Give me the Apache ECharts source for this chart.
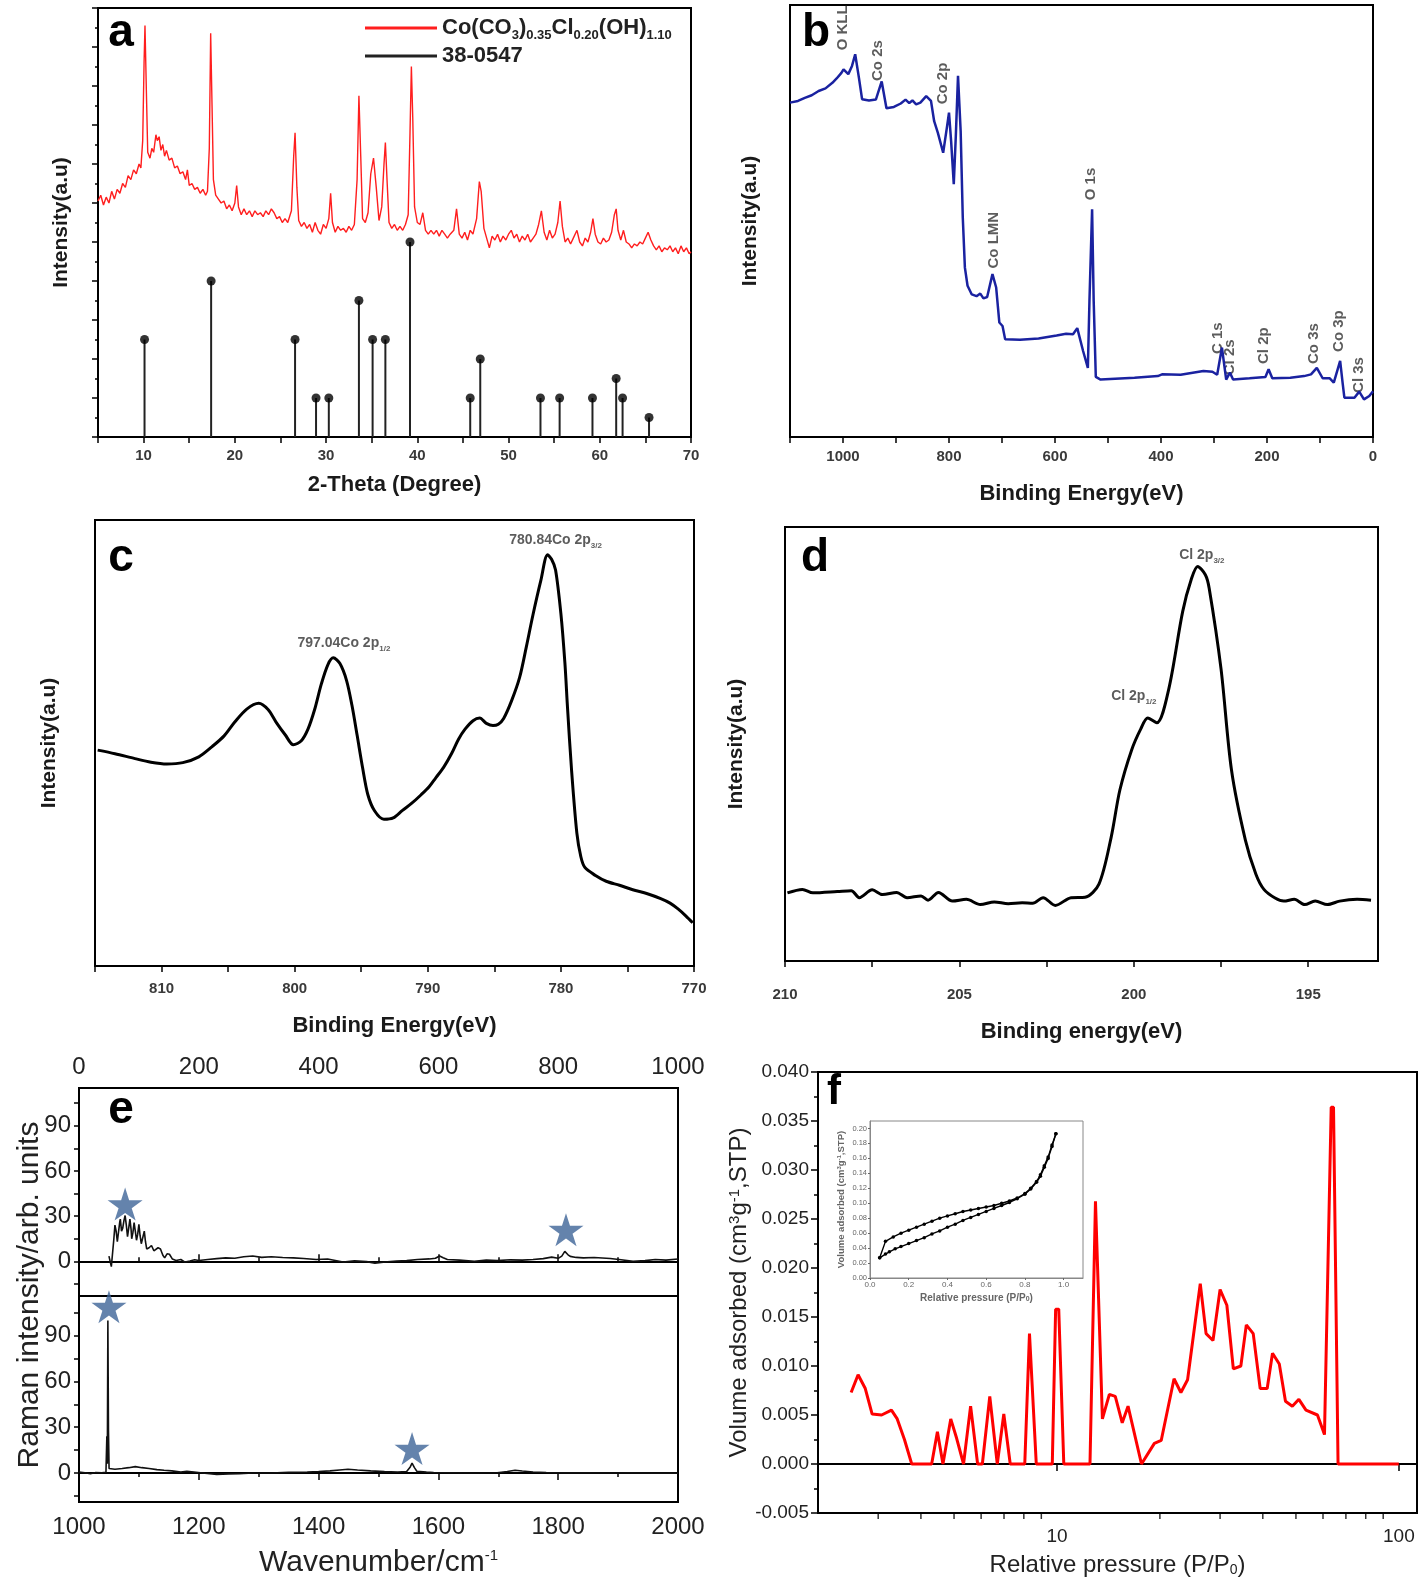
<!DOCTYPE html>
<html><head><meta charset="utf-8">
<script src="https://cdn.jsdelivr.net/npm/echarts/dist/echarts.min.js"></script>
<style>html,body{margin:0;padding:0;background:#fff}#c{width:1418px;height:1587px}</style>
</head><body><div id="c"></div><script>
// ---------- DATA ----------
// (a) XRD pattern [2theta, intensity]
const xrdCurve = [[5.0,6.05],[5.3,6.2],[5.6,5.95],[5.9,6.15],[6.2,6.0],[6.5,6.3],[6.8,6.1],[7.1,6.35],[7.4,6.25],[7.7,6.5],[8.0,6.4],[8.3,6.7],[8.6,6.6],[8.9,6.85],[9.2,6.75],[9.5,7.0],[9.7,6.9],[9.9,7.6],[10.05,9.6],[10.15,10.55],[10.3,8.9],[10.45,7.3],[10.7,7.15],[10.9,7.4],[11.1,7.3],[11.35,7.75],[11.5,7.6],[11.7,7.7],[11.9,7.35],[12.1,7.5],[12.3,7.2],[12.5,7.35],[12.8,7.1],[13.1,7.15],[13.4,6.9],[13.7,6.95],[14.0,6.75],[14.3,6.8],[14.6,6.6],[14.8,6.85],[15.0,6.45],[15.3,6.5],[15.6,6.35],[15.9,6.4],[16.2,6.25],[16.5,6.35],[16.8,6.2],[17.0,6.3],[17.2,7.4],[17.35,10.35],[17.5,8.5],[17.65,6.6],[17.9,6.2],[18.2,6.1],[18.5,6.0],[18.8,6.05],[19.1,5.85],[19.4,5.95],[19.7,5.8],[20.0,6.0],[20.2,6.45],[20.4,5.9],[20.7,5.7],[21.0,5.85],[21.3,5.7],[21.6,5.8],[21.9,5.65],[22.2,5.8],[22.5,5.7],[22.8,5.75],[23.1,5.65],[23.4,5.8],[23.7,5.7],[24.0,5.85],[24.3,5.75],[24.6,5.6],[24.9,5.65],[25.2,5.5],[25.5,5.6],[25.8,5.5],[26.2,5.8],[26.45,7.2],[26.6,7.8],[26.8,6.4],[27.0,5.55],[27.3,5.4],[27.6,5.5],[27.9,5.35],[28.2,5.45],[28.5,5.25],[28.8,5.5],[29.1,5.3],[29.4,5.2],[29.7,5.45],[30.0,5.35],[30.3,5.6],[30.5,6.25],[30.7,5.5],[31.0,5.25],[31.3,5.4],[31.6,5.3],[31.9,5.35],[32.2,5.25],[32.5,5.4],[32.8,5.3],[33.1,5.45],[33.4,6.6],[33.6,8.75],[33.8,7.2],[34.0,5.6],[34.3,5.5],[34.6,5.75],[34.9,6.75],[35.2,7.15],[35.5,6.4],[35.8,5.55],[36.1,5.9],[36.35,7.0],[36.5,7.55],[36.7,6.5],[36.9,5.5],[37.2,5.35],[37.5,5.45],[37.8,5.3],[38.1,5.4],[38.4,5.3],[38.7,5.45],[39.0,5.7],[39.2,7.8],[39.35,9.5],[39.5,8.2],[39.7,5.9],[40.0,5.5],[40.3,5.45],[40.6,5.75],[40.9,5.3],[41.2,5.2],[41.5,5.3],[41.8,5.2],[42.1,5.3],[42.4,5.15],[42.7,5.3],[43.0,5.2],[43.3,5.1],[43.6,5.2],[44.0,5.3],[44.3,5.85],[44.6,5.2],[44.9,5.1],[45.2,5.25],[45.5,5.05],[45.8,5.3],[46.1,5.2],[46.5,5.6],[46.8,6.55],[47.0,6.3],[47.3,5.35],[47.6,5.1],[47.9,4.85],[48.2,5.15],[48.5,5.05],[48.8,5.2],[49.1,5.0],[49.4,5.15],[49.7,5.05],[50.0,5.2],[50.3,5.3],[50.6,5.1],[50.9,5.2],[51.2,5.0],[51.5,5.15],[51.8,5.05],[52.1,5.2],[52.4,5.0],[52.7,5.1],[53.0,5.2],[53.3,5.45],[53.6,5.8],[53.9,5.25],[54.2,5.05],[54.5,5.3],[54.8,5.1],[55.1,5.2],[55.4,5.5],[55.65,6.05],[55.9,5.4],[56.2,5.0],[56.5,5.1],[56.8,4.95],[57.1,5.1],[57.5,5.3],[57.8,5.0],[58.1,4.9],[58.4,5.1],[58.7,5.0],[59.0,5.25],[59.25,5.6],[59.5,5.2],[59.8,5.0],[60.1,4.95],[60.4,5.1],[60.7,5.0],[61.0,5.05],[61.3,5.25],[61.6,5.7],[61.8,5.85],[62.0,5.3],[62.3,5.05],[62.6,5.3],[62.9,5.0],[63.2,4.95],[63.5,4.85],[63.8,4.95],[64.1,4.9],[64.4,5.0],[64.7,4.95],[65.0,5.1],[65.3,5.25],[65.6,5.05],[65.9,4.9],[66.2,4.8],[66.5,4.9],[66.8,4.75],[67.1,4.85],[67.4,4.8],[67.7,4.9],[68.0,4.75],[68.3,4.85],[68.6,4.7],[68.9,4.9],[69.2,4.75],[69.5,4.85],[69.8,4.7],[70.0,4.75]];
const refPos = [10.1,17.4,26.6,28.9,30.3,33.6,35.1,36.5,39.2,45.8,46.9,53.5,55.6,59.2,61.8,62.5,65.4];
const refInt = [2.5,4,2.5,1,1,3.5,2.5,2.5,5,1,2,1,1,1,1.5,1,0.5];
const legendNames = ['Co(CO3)0.35Cl0.20(OH)1.10','38-0547'];

// (b) XPS survey [BE, intensity]
const survey = [[1100,77.4],[1085,77.8],[1072,78.5],[1059,79.1],[1046,80.1],[1033,80.7],[1020,82.0],[1012,83.0],[1003,84.3],[999,85.1],[990,84.0],[983,85.9],[977,88.6],[970,83.2],[964,78.2],[951,77.9],[938,78.1],[927,82.3],[918,76.1],[904,76.4],[891,77.2],[882,78.1],[875,77.3],[869,77.9],[862,77.0],[854,77.4],[843,78.9],[834,77.8],[828,73.1],[821,70.4],[811,65.8],[804,71.6],[800,75.1],[796,68.5],[791,58.5],[787,70.1],[783,83.6],[778,70.8],[774,50.8],[770,39.2],[765,35.0],[757,33.0],[748,32.6],[741,33.2],[735,32.1],[728,32.4],[718,37.7],[711,34.6],[705,26.5],[699,25.7],[694,22.6],[666,22.5],[631,22.8],[597,23.5],[579,23.9],[566,23.8],[558,25.2],[547,19.9],[538,16.0],[535,31.5],[530,52.7],[527,31.5],[523,13.9],[514,13.3],[450,13.7],[406,14.1],[398,14.5],[363,14.4],[320,15.3],[303,15.1],[294,14.4],[285,20.7],[277,13.3],[270,14.9],[264,13.3],[233,13.6],[203,13.9],[197,15.7],[190,13.6],[156,13.7],[130,14.1],[117,14.5],[106,16.0],[95,13.6],[82,13.6],[74,12.6],[62,17.6],[57,12.2],[54,9.1],[35,9.1],[26,10.5],[17,8.7],[7,9.5],[0,10.6]];
const surveyLabels = ['O KLL','Co 2s','Co 2p','Co LMN','O 1s','C 1s','Cl 2s','Cl 2p','Co 3s','Co 3p','Cl 3s'];
const surveyLabelBE = [1000,934,811,715,532,292,270,206,111,64,26];
const surveyLabelY = [89.5,82.4,77,39,54.8,19.2,14.3,16.9,16.9,19.7,10.2];

// (c) Co 2p
const co2p = [[814.8,48.4],[813.5,47.6],[812,46.5],[810.8,45.7],[809.6,45.3],[808.4,45.6],[807.2,46.9],[806.2,49.2],[805.3,51.6],[804.5,54.7],[803.6,57.6],[802.7,58.9],[802.0,57.5],[801.4,54.7],[800.7,51.8],[800.1,49.6],[799.5,50.5],[799,53.1],[798.5,57.5],[798,63.2],[797.5,67.6],[797.1,69.1],[796.6,67.8],[796.1,64],[795.7,58.5],[795.3,51.6],[794.9,44.5],[794.5,38.4],[794.0,34.8],[793.3,32.9],[792.6,33.2],[791.9,34.9],[791.2,36.5],[790.5,38.4],[789.9,40.2],[789.4,42.2],[788.8,44.6],[788.2,47.7],[787.7,50.8],[787.2,53.1],[786.6,55.0],[786.1,55.6],[785.6,54.4],[785.1,53.9],[784.7,54.2],[784.3,55.5],[783.7,59.5],[783.1,64.7],[782.6,71.5],[782.1,78.7],[781.5,86.5],[781.0,92.2],[780.7,91.2],[780.4,88.8],[780.0,79],[779.7,68],[779.5,57.8],[779.2,44],[778.8,29.8],[778.5,24.5],[778.2,22.1],[777.4,20.3],[776.6,19],[775.6,18.1],[774.6,17.1],[773.5,16.2],[772.5,15.1],[771.8,14.1],[771.2,12.8],[770.6,11.2],[770.1,9.7]];
const co2pLabels = ['{t|780.84Co 2p}{s|3/2}','{t|797.04Co 2p}{s|1/2}'];
const co2pLabelPos = [[780.4,95.5],[796.3,72.5]];

// (d) Cl 2p
const cl2p = [[209.93,15.7],[209.5,16.5],[209.2,15.7],[208.5,16.0],[208.1,16.2],[207.87,14.6],[207.5,16.4],[207.2,15.3],[206.8,15.8],[206.5,14.6],[206.1,15.0],[205.9,14.0],[205.6,15.8],[205.2,13.8],[204.8,14.2],[204.4,13.0],[204.0,13.6],[203.6,13.2],[203.2,13.4],[202.9,13.3],[202.6,14.6],[202.25,12.8],[201.8,14.6],[201.4,14.7],[201.0,17.7],[200.65,28.5],[200.4,39.4],[200.06,48.7],[199.8,53.5],[199.6,56],[199.34,54.9],[199.0,62.6],[198.6,80.5],[198.35,88],[198.17,90.9],[197.95,89],[197.84,85.9],[197.5,67.3],[197.2,44],[196.8,27.8],[196.5,20],[196.27,16.5],[195.95,14.5],[195.7,13.8],[195.4,14.2],[195.1,13],[194.8,13.8],[194.45,13],[194.1,13.8],[193.6,14.2],[193.2,14]];
const cl2pLabels = ['{t|Cl 2p}{s|3/2}','{t|Cl 2p}{s|1/2}'];
const cl2pLabelPos = [[198.05,93.5],[200.0,61]];
const dTickLabels = [195,200,205,210];
const dTicks = [195,197.5,200,202.5,205,207.5,210];

// (e) Raman
const ramanTop = [[50,3.5],[54,-3.5],[58,14],[60,24],[62,20],[64,13],[66,11.7],[68,26],[69,28],[71,20],[73,22],[75,27],[77,30.4],[79,24],[81,16.4],[83,22],[85,28],[87,21],[88,15],[90,19],[92,25.7],[94,20],[96,14],[98,18],[100,24.6],[102,17],[104,11.7],[106,15],[109,20],[111,13],[113,8.2],[117,9],[121,10.5],[125,7],[128,5.9],[132,9],[136,8.2],[140,4],[143,2.3],[147,5],[151,4.7],[156,1.5],[162,0.5],[170,1.2],[177,-0.5],[185,0.2],[193,1],[200,0.5],[215,1.2],[230,1.8],[245,2.3],[260,2.0],[275,3.0],[290,3.5],[305,2.6],[321,3],[340,2.5],[358,2.3],[375,1.9],[396,1.2],[415,1.5],[441,-0.5],[460,0.3],[480,-0.2],[494,-1.2],[515,-0.3],[530,0.2],[547,0.5],[565,1.2],[585,1.6],[595,2.0],[602,3.5],[608,2.4],[615,1.2],[635,0.8],[660,0],[680,0.8],[698,0.5],[720,1.0],[740,0.8],[758,1.2],[775,1.8],[789,2.8],[800,2.0],[806,3.5],[811,6.6],[816,4.5],[820,3.3],[830,2.6],[842,2.3],[860,2.5],[887,1.9],[905,1.0],[925,0],[945,0.5],[962,1.2],[980,0.8],[1000,1.6]];
const ramanBottom = [[1000,0.7],[1010,0.2],[1019,-0.5],[1028,0.3],[1038,0.2],[1045,0.5],[1046.5,24],[1047.3,6],[1048.2,100],[1049.2,28],[1050.2,3],[1060,2.5],[1072,3],[1083,3.5],[1094,4.2],[1105,3.5],[1117,3],[1130,2.2],[1142,1.8],[1155,1.4],[1170,0.6],[1180,1.2],[1192,0.7],[1210,-0.2],[1230,-0.9],[1250,-0.6],[1268,-0.5],[1290,0],[1321,0],[1350,0.4],[1381,0.7],[1400,1.0],[1419,1.4],[1435,2.0],[1449,2.5],[1465,2.0],[1487,1.4],[1510,0.9],[1532,0.7],[1547,1.0],[1553,4.0],[1556,6.5],[1560,3.5],[1564,1.2],[1580,0.6],[1592,0.3],[1620,0.2],[1660,0],[1698,0.2],[1715,1.0],[1728,1.8],[1740,1.3],[1758,0.7],[1780,0.3],[1811,0.1],[1850,0.2],[1887,0],[1920,0.1],[1960,-0.1],[2000,-0.1]];
const starsTop = [[77,38],[813,21]];
const starsBottom = [[1050,109],[1556,16]];
const eYLabels = [0,30,60,90];
const eYTicks = [-15,0,15,30,45,60,75,90,105];

// (f) pore distribution [P/P0, volume]
const poreDist = [[2.50,0.0073],[2.62,0.0091],[2.75,0.0077],[2.88,0.0051],[3.07,0.0050],[3.28,0.0055],[3.41,0.0046],[3.58,0.0025],[3.76,0.0],[4.30,0.0],[4.47,0.0033],[4.64,0.0],[4.89,0.0046],[5.09,0.0026],[5.33,0.0],[5.59,0.0059],[5.86,0.0],[6.05,0.0],[6.36,0.0069],[6.69,0.0],[6.99,0.0051],[7.30,0.0],[8.05,0.0],[8.31,0.0133],[8.70,0.0],[9.69,0.0],[9.91,0.0158],[10.12,0.0158],[10.47,0.0],[12.49,0.0],[12.96,0.0268],[13.58,0.0046],[14.23,0.0071],[14.81,0.0069],[15.52,0.0042],[16.14,0.0059],[17.67,0.0],[19.27,0.0021],[20.18,0.0024],[22.0,0.0087],[23.04,0.0073],[24.1,0.0086],[26.25,0.0184],[27.3,0.0133],[28.6,0.0126],[30.0,0.0178],[31.4,0.0162],[32.8,0.0097],[34.5,0.0100],[35.8,0.0142],[37.5,0.0133],[39.3,0.0077],[41.2,0.0077],[42.7,0.0113],[44.7,0.0102],[46.6,0.0064],[48.8,0.0059],[51.0,0.0066],[53.5,0.0055],[57.8,0.0050],[60.6,0.0030],[63.4,0.0364],[64.4,0.0364],[66.4,0.0],[100.0,0.0]];
const logMinorTicks = [3,4,5,6,7,8,9,20,30,40,50,60,70,80,90];
// inset isotherm
const isoAds = [[0.05,0.027],[0.08,0.032],[0.10,0.035],[0.13,0.039],[0.16,0.042],[0.20,0.046],[0.24,0.050],[0.28,0.054],[0.32,0.059],[0.36,0.063],[0.40,0.068],[0.44,0.072],[0.48,0.077],[0.52,0.081],[0.56,0.085],[0.60,0.089],[0.64,0.093],[0.68,0.097],[0.72,0.101],[0.76,0.106],[0.80,0.112],[0.83,0.119],[0.86,0.128],[0.88,0.136],[0.90,0.148],[0.92,0.160],[0.94,0.176],[0.96,0.193]];
const isoDes = [[0.96,0.193],[0.94,0.178],[0.92,0.162],[0.90,0.150],[0.88,0.138],[0.86,0.129],[0.83,0.120],[0.80,0.113],[0.76,0.107],[0.72,0.103],[0.68,0.100],[0.64,0.097],[0.60,0.095],[0.56,0.093],[0.52,0.091],[0.48,0.089],[0.44,0.086],[0.40,0.083],[0.36,0.080],[0.32,0.076],[0.28,0.072],[0.24,0.068],[0.20,0.064],[0.16,0.060],[0.12,0.055],[0.08,0.049],[0.05,0.027]];

// ---------- CHART ----------
const FONT = '"Liberation Sans", Arial, Helvetica, sans-serif';
const chart = echarts.init(document.getElementById('c'), null, {renderer:'canvas'});
const grids = [
  {left:98, top:8, width:593, height:429},
  {left:790, top:5, width:583, height:432},
  {left:95, top:520, width:599, height:446},
  {left:785, top:527, width:593, height:434},
  {left:79, top:1088, width:599, height:208},
  {left:79, top:1296, width:599, height:206},
  {left:818, top:1072, width:599, height:441},
  {left:870, top:1121, width:213, height:157}
].map(g => Object.assign({show:true, borderColor:'#000', borderWidth:2}, g));
grids[7].borderColor = '#888'; grids[7].borderWidth = 1; grids[7].backgroundColor = 'rgba(255,255,255,0)';

const aLine = {show:true, lineStyle:{color:'#000', width:2}};
const bLab = {fontFamily:FONT, fontWeight:'bold', fontSize:15, color:'#3a3a3a'};
const bName = {fontFamily:FONT, fontWeight:'bold', fontSize:22, color:'#1a1a1a'};
const tick = (len, w) => ({show:true, length:len, lineStyle:{color:'#000', width:w||1.5}});
const noSplit = {show:false};
const plain = v => String(v);
const supRich = {
  sup:{fontFamily:FONT, fontSize:15, verticalAlign:'top', lineHeight:14},
  sub:{fontFamily:FONT, fontSize:14, verticalAlign:'bottom', lineHeight:12}
};

const xAxis = [
  {gridIndex:0, type:'value', min:5, max:70, interval:5, axisLine:aLine, axisTick:tick(6),
   axisLabel:Object.assign({margin:11, formatter:v => v % 10 === 0 ? String(v) : ''}, bLab), splitLine:noSplit,
   name:'2-Theta (Degree)', nameLocation:'middle', nameGap:37, nameTextStyle:bName},
  {gridIndex:1, type:'value', min:0, max:1100, inverse:true, interval:100, axisLine:aLine, axisTick:tick(6),
   axisLabel:Object.assign({margin:12, formatter:v => v % 200 === 0 ? String(v) : ''}, bLab), splitLine:noSplit,
   name:'Binding Energy(eV)', nameLocation:'middle', nameGap:46, nameTextStyle:bName},
  {gridIndex:2, type:'value', min:770, max:815, inverse:true, interval:5, axisLine:aLine, axisTick:tick(6),
   axisLabel:Object.assign({margin:15, formatter:v => v % 10 === 0 ? String(v) : ''}, bLab), splitLine:noSplit,
   name:'Binding Energy(eV)', nameLocation:'middle', nameGap:49, nameTextStyle:bName},
  {gridIndex:3, type:'value', min:193, max:210, inverse:true, axisLine:aLine,
   axisTick:Object.assign(tick(6), {customValues:dTicks}),
   axisLabel:Object.assign({margin:26, customValues:dTickLabels}, bLab), splitLine:noSplit,
   name:'Binding energy(eV)', nameLocation:'middle', nameGap:60, nameTextStyle:bName},
  {gridIndex:4, type:'value', position:'top', min:0, max:1000, interval:200, axisLine:aLine, axisTick:tick(7),
   minorTick:{show:true, splitNumber:2, length:4, lineStyle:{color:'#000', width:1.5}},
   axisLabel:{fontFamily:FONT, fontSize:24, color:'#222', margin:9, formatter:plain}, splitLine:noSplit, minorSplitLine:noSplit},
  {gridIndex:5, type:'value', min:1000, max:2000, interval:200, axisLine:aLine, axisTick:tick(7),
   minorTick:{show:true, splitNumber:2, length:4, lineStyle:{color:'#000', width:1.5}},
   axisLabel:{fontFamily:FONT, fontSize:24, color:'#222', margin:13, formatter:plain}, splitLine:noSplit, minorSplitLine:noSplit,
   name:'Wavenumber/cm{sup|-1}', nameLocation:'middle', nameGap:46,
   nameTextStyle:{fontFamily:FONT, fontSize:30, color:'#222', rich:supRich}},
  {gridIndex:6, type:'log', logBase:10, min:2, max:113, axisLine:aLine, axisTick:tick(7),
   axisLabel:{fontFamily:FONT, fontSize:19, color:'#222', margin:14, showMinLabel:false, showMaxLabel:false, formatter:plain},
   splitLine:noSplit, minorSplitLine:noSplit,
   name:'Relative pressure (P/P{sub|0})', nameLocation:'middle', nameGap:40,
   nameTextStyle:{fontFamily:FONT, fontSize:24, color:'#222', rich:supRich}},
  {gridIndex:7, type:'value', min:0, max:1.1, interval:0.2, axisLine:{show:true, lineStyle:{color:'#888', width:1}},
   axisTick:{show:true, length:2, lineStyle:{color:'#666'}},
   axisLabel:{fontFamily:FONT, fontSize:8, color:'#666', margin:3, showMaxLabel:false, formatter:v => v.toFixed(1)},
   splitLine:noSplit, name:'Relative pressure (P/P{sub|0})', nameLocation:'middle', nameGap:15,
   nameTextStyle:{fontFamily:FONT, fontSize:10, fontWeight:'bold', color:'#666', rich:{sub:{fontSize:7, verticalAlign:'bottom', lineHeight:6, color:'#666', fontWeight:'bold'}}}}
];

const yAxis = [
  {gridIndex:0, type:'value', min:0, max:11, interval:1, axisLine:aLine, axisTick:tick(6),
   minorTick:{show:true, splitNumber:2, length:3, lineStyle:{color:'#000', width:1.5}},
   axisLabel:{show:false}, splitLine:noSplit, minorSplitLine:noSplit,
   name:'Intensity(a.u)', nameLocation:'middle', nameGap:26, nameTextStyle:Object.assign({}, bName, {fontSize:21})},
  {gridIndex:1, type:'value', min:0, max:100, axisLine:aLine, axisTick:{show:false}, axisLabel:{show:false}, splitLine:noSplit,
   name:'Intensity(a.u)', nameLocation:'middle', nameGap:29, nameTextStyle:Object.assign({}, bName, {fontSize:21})},
  {gridIndex:2, type:'value', min:0, max:100, axisLine:aLine, axisTick:{show:false}, axisLabel:{show:false}, splitLine:noSplit,
   name:'Intensity(a.u)', nameLocation:'middle', nameGap:35, nameTextStyle:Object.assign({}, bName, {fontSize:21})},
  {gridIndex:3, type:'value', min:0, max:100, axisLine:aLine, axisTick:{show:false}, axisLabel:{show:false}, splitLine:noSplit,
   name:'Intensity(a.u)', nameLocation:'middle', nameGap:38, nameTextStyle:Object.assign({}, bName, {fontSize:21})},
  {gridIndex:4, type:'value', min:-23, max:115, axisLine:aLine,
   axisTick:Object.assign(tick(5), {customValues:eYTicks}),
   axisLabel:{fontFamily:FONT, fontSize:24, color:'#222', margin:8, customValues:eYLabels}, splitLine:noSplit},
  {gridIndex:5, type:'value', min:-19, max:116, axisLine:aLine,
   axisTick:Object.assign(tick(5), {customValues:eYTicks}),
   axisLabel:{fontFamily:FONT, fontSize:24, color:'#222', margin:8, customValues:eYLabels}, splitLine:noSplit},
  {gridIndex:6, type:'value', min:-0.005, max:0.04, interval:0.005, axisLine:aLine, axisTick:tick(7),
   minorTick:{show:true, splitNumber:2, length:4, lineStyle:{color:'#000', width:1.5}},
   axisLabel:{fontFamily:FONT, fontSize:19, color:'#222', margin:9, formatter:v => v.toFixed(3)},
   splitLine:noSplit, minorSplitLine:noSplit,
   name:'Volume adsorbed (cm{sup|3}g{sup|-1},STP)', nameLocation:'middle', nameGap:66,
   nameTextStyle:{fontFamily:FONT, fontSize:24, color:'#222', rich:supRich}},
  {gridIndex:7, type:'value', min:0, max:0.21, interval:0.02, axisLine:{show:true, lineStyle:{color:'#888', width:1}},
   axisTick:{show:true, length:2, lineStyle:{color:'#666'}},
   axisLabel:{fontFamily:FONT, fontSize:7.5, color:'#666', margin:3, showMaxLabel:false, formatter:v => v.toFixed(2)},
   splitLine:noSplit, name:'Volume adsorbed (cm{sup|3}g{sup|-1},STP)', nameLocation:'middle', nameGap:24,
   nameTextStyle:{fontFamily:FONT, fontSize:9.5, fontWeight:'bold', color:'#666',
     rich:{sup:{fontSize:6, verticalAlign:'top', lineHeight:6, color:'#666', fontWeight:'bold'}}}}
];

const starPath = 'path://M50,0 L61,35 L98,35 L68,57 L79,91 L50,70 L21,91 L32,57 L2,35 L39,35 Z';
const lineS = (xi, data, color, width, extra) => Object.assign({type:'line', xAxisIndex:xi, yAxisIndex:xi, data:data,
  showSymbol:false, symbol:'none', lineStyle:{color:color, width:width}, itemStyle:{color:color}, silent:true}, extra || {});
const textPts = (xi, labels, pos, labelCfg) => ({type:'scatter', xAxisIndex:xi, yAxisIndex:xi, symbolSize:0, silent:true, clip:false,
  data: labels.map((t, i) => ({name:t, value:pos[i]})),
  label: Object.assign({show:true, formatter:p => p.name}, labelCfg)});

const series = [
  lineS(0, xrdCurve, '#ff1e1e', 1.4, {name:legendNames[0]}),
  {type:'bar', name:legendNames[1], xAxisIndex:0, yAxisIndex:0, barWidth:2, silent:true,
   itemStyle:{color:'#222'}, data:refPos.map((p, i) => [p, refInt[i]])},
  {type:'scatter', name:'refTops', xAxisIndex:0, yAxisIndex:0, symbolSize:9, silent:true,
   itemStyle:{color:'#000'}, data:refPos.map((p, i) => [p, refInt[i]])},
  lineS(1, survey, '#1a22a0', 2.5),
  textPts(1, surveyLabels, surveyLabelBE.map((b, i) => [b, surveyLabelY[i]]),
    {position:[0,0], rotate:90, align:'left', verticalAlign:'middle', distance:0,
     fontFamily:FONT, fontWeight:'bold', fontSize:15, color:'#333'}),
  lineS(2, co2p, '#000', 3, {smooth:0.3}),
  textPts(2, co2pLabels, co2pLabelPos, {position:'inside', color:'#333',
     rich:{t:{fontFamily:FONT, fontWeight:'bold', fontSize:14, color:'#333', lineHeight:20},
           s:{fontFamily:FONT, fontWeight:'bold', fontSize:8, color:'#333', verticalAlign:'bottom', lineHeight:8}}}),
  lineS(3, cl2p, '#000', 3, {smooth:0.3}),
  textPts(3, cl2pLabels, cl2pLabelPos, {position:'inside', color:'#333',
     rich:{t:{fontFamily:FONT, fontWeight:'bold', fontSize:14, color:'#333', lineHeight:20},
           s:{fontFamily:FONT, fontWeight:'bold', fontSize:8, color:'#333', verticalAlign:'bottom', lineHeight:8}}}),
  lineS(4, ramanTop, '#111', 1.6),
  {type:'scatter', xAxisIndex:4, yAxisIndex:4, symbol:starPath, symbolSize:[35,33], clip:false, silent:true,
   itemStyle:{color:'#3d6497'}, data:starsTop},
  lineS(5, ramanBottom, '#111', 1.6),
  {type:'scatter', xAxisIndex:5, yAxisIndex:5, symbol:starPath, symbolSize:[35,33], clip:false, silent:true,
   itemStyle:{color:'#3d6497'}, data:starsBottom},
  lineS(6, poreDist, '#ff0000', 3),
  {type:'scatter', xAxisIndex:6, yAxisIndex:6, symbol:'rect', symbolSize:[1.5,5], symbolOffset:[0,3.5], clip:false, silent:true,
   itemStyle:{color:'#000'}, data:logMinorTicks.map(v => [v, -0.005])},
  {type:'line', xAxisIndex:7, yAxisIndex:7, data:isoAds, symbol:'circle', symbolSize:3.5, showSymbol:true, silent:true,
   lineStyle:{color:'#000', width:1.4}, itemStyle:{color:'#000'}},
  {type:'line', xAxisIndex:7, yAxisIndex:7, data:isoDes, symbol:'circle', symbolSize:3.5, showSymbol:true, silent:true,
   lineStyle:{color:'#000', width:1.4}, itemStyle:{color:'#000'}}
];

const letter = (t, x, y, size) => ({type:'text', x:x, y:y, z:100, silent:true,
  style:{text:t, fill:'#000', font:'bold ' + (size || 46) + 'px ' + FONT, align:'center', verticalAlign:'middle'}});

chart.setOption({
  animation:false,
  backgroundColor:'#fff',
  grid:grids, xAxis:xAxis, yAxis:yAxis, series:series,
  legend:{data:legendNames, left:360, top:12, orient:'vertical', itemWidth:72, itemHeight:3, itemGap:3, icon:'rect',
    selectedMode:false,
    formatter:n => n === legendNames[1] ? '{n|38-0547}' : '{n|Co(CO}{s|3}{n|)}{s|0.35}{n|Cl}{s|0.20}{n|(OH)}{s|1.10}',
    textStyle:{rich:{
      n:{fontFamily:FONT, fontWeight:'bold', fontSize:22, color:'#222', lineHeight:28},
      s:{fontFamily:FONT, fontWeight:'bold', fontSize:13, color:'#222', verticalAlign:'bottom', lineHeight:13}}}},
  graphic:[
    letter('a', 121, 33), letter('b', 816, 33), letter('c', 121, 558), letter('d', 815, 558),
    letter('e', 121, 1110), letter('f', 834, 1092, 42),
    {type:'text', x:30, y:1295, rotation:Math.PI/2, silent:true,
     style:{text:'Raman intensity/arb. units', fill:'#222', font:'30px ' + FONT, align:'center', verticalAlign:'middle'}}
  ]
});
</script></body></html>
